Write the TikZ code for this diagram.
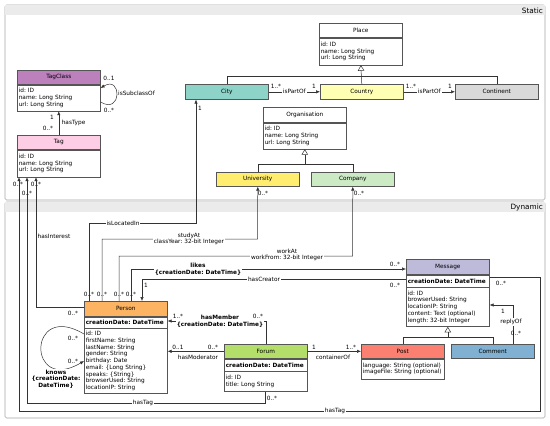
\documentclass[tikz,border=0pt]{standalone}
\usepackage{fontspec}
\setmainfont{DejaVu Sans}
\usetikzlibrary{arrows.meta}
\definecolor{cCity}{HTML}{8DD3C7}
\definecolor{cCountry}{HTML}{FFFFB3}
\definecolor{cMessage}{HTML}{BEBADA}
\definecolor{cPost}{HTML}{FB8072}
\definecolor{cComment}{HTML}{80B1D3}
\definecolor{cPerson}{HTML}{FDB462}
\definecolor{cForum}{HTML}{B3DE69}
\definecolor{cTag}{HTML}{FCCDE5}
\definecolor{cContinent}{HTML}{D9D9D9}
\definecolor{cTagClass}{HTML}{BC80BD}
\definecolor{cCompany}{HTML}{CCEBC5}
\definecolor{cUniversity}{HTML}{FFED6F}
\definecolor{bord}{HTML}{555555}
\definecolor{linec}{HTML}{333333}
\definecolor{band}{HTML}{EBEBEB}
\newcommand{\fs}{\fontsize{5.8}{6.7}\selectfont}
\tikzset{
 hdr/.style={draw=bord, line width=0.6pt, anchor=north west, minimum width=83pt, minimum height=14pt, inner sep=0pt, font=\fs},
 att/.style={draw=bord, line width=0.6pt, fill=white, anchor=north west, text width=80pt, inner xsep=1.5pt, inner ysep=0pt, align=left, font=\fs},
 conn/.style={draw=linec, line width=0.5pt},
 arr/.style={conn, -{Latex[length=4pt,width=3.4pt]}},
 gen/.style={conn, -{Triangle[open,length=5.5pt,width=6.5pt]}},
 lab/.style={font=\fs, inner sep=0.6pt, text=black},
 onl/.style={lab, fill=white, inner sep=1pt},
 bl/.style={font=\fs\bfseries, align=center},
 panel/.style={draw=gray!70, line width=0.6pt, rounded corners=1.5pt, fill=white},
}
\begin{document}
\frenchspacing\hfuzz=50pt\hbadness=10000
\begin{tikzpicture}[x=1pt,y=-1pt]
\useasboundingbox (0,0) rectangle (550,426);
% panels
\draw[panel] (5,5) rectangle (545,200);
\fill[band] (5.4,5.4) rectangle (544.6,15);
\node[anchor=east, font=\fontsize{7.3}{8}\selectfont, inner sep=0pt] (stlab) at (543,10.5) {Static};
\draw[panel] (5,202) rectangle (545,418);
\fill[band] (5.4,202.4) rectangle (544.6,212);
\node[anchor=east, font=\fontsize{7.3}{8}\selectfont, inner sep=0pt] (dylab) at (543,207.5) {Dynamic};

% static classes
\node[hdr, fill=cTagClass] (tagclassH) at (17,70) {TagClass};
\node[att, minimum height=26pt] (tagclassB) at (tagclassH.south west) {id: ID\\name: Long String\\url: Long String};
\node[hdr, fill=cTag] (tagH) at (17,135) {Tag};
\node[att, minimum height=27pt] (tagB) at (tagH.south west) {id: ID\\name: Long String\\url: Long String};
\node[hdr, fill=white] (placeH) at (319,23) {Place};
\node[att, minimum height=27pt] (placeB) at (placeH.south west) {id: ID\\name: Long String\\url: Long String};
\node[hdr, fill=cCity, minimum height=15pt] (cityH) at (185,84) {City};
\node[hdr, fill=cCountry, minimum height=15pt] (countryH) at (320,84) {Country};
\node[hdr, fill=cContinent, minimum height=15pt] (continentH) at (455,84) {Continent};
\node[hdr, fill=white, minimum height=15pt] (orgH) at (263,107) {Organisation};
\node[att, minimum height=26pt] (orgB) at (orgH.south west) {id: ID\\name: Long String\\url: Long String};
\node[hdr, fill=cUniversity] (univH) at (216,172) {University};
\node[hdr, fill=cCompany] (compH) at (311,172) {Company};

% dynamic classes
\node[hdr, fill=cPerson, minimum height=15pt] (personH) at (84,301) {Person};
\node[att, minimum height=11pt, font=\fs\bfseries] (personC) at (personH.south west) {creationDate: DateTime};
\node[att, minimum height=65pt] (personB) at (personC.south west) {id: ID\\firstName: String\\lastName: String\\gender: String\\birthday: Date\\email: \{Long String\}\\speaks: \{String\}\\browserUsed: String\\locationIP: String};
\node[hdr, fill=cMessage, minimum height=15pt] (messageH) at (406,259) {Message};
\node[att, minimum height=12pt, font=\fs\bfseries] (messageC) at (messageH.south west) {creationDate: DateTime};
\node[att, minimum height=39pt] (messageB) at (messageC.south west) {id: ID\\browserUsed: String\\locationIP: String\\content: Text (optional)\\length: 32-bit Integer};
\node[hdr, fill=cForum] (forumH) at (224,344) {Forum};
\node[att, minimum height=12pt, font=\fs\bfseries] (forumC) at (forumH.south west) {creationDate: DateTime};
\node[att, minimum height=20pt] (forumB) at (forumC.south west) {id: ID\\title: Long String};
\node[hdr, fill=cPost] (postH) at (361,344) {Post};
\node[att, minimum height=20pt] (postB) at (postH.south west) {language: String (optional)\\imageFile: String (optional)};
\node[hdr, fill=cComment] (commentH) at (451,344) {Comment};

% hasType
\draw[arr] (tagH.north) -- (tagclassB.south);
\node[lab] (l1) at (52,117) {1};
\node[lab] (l2) at (48,128) {0..*};
\node[lab, anchor=west] (l3) at (61,123) {hasType};
% isSubclassOf
\draw[arr] (tagclassB.east |- 0,102) .. controls (122,115) and (122,75) .. (tagclassB.east |- 0,88);
\node[lab] (l4) at (109,78) {0..1};
\node[lab] (l5) at (109,110) {0..*};
\node[lab] (l6) at (136.5,93) {isSubclassOf};
% place generalisation
\draw[gen] (countryH.north) -- (placeB.south);
\draw[conn] (cityH.north) -- (cityH.north |- 0,76) -- (continentH.north |- 0,76) -- (continentH.north);
% isPartOf
\draw[arr] (cityH.east) -- (countryH.west) node[onl, midway] (ip1) {isPartOf};
\node[lab] (l7) at (276,86) {1..*};
\node[lab] (l8) at (314,86) {1};
\draw[arr] (countryH.east) -- (continentH.west) node[onl, midway] (ip2) {isPartOf};
\node[lab] (l9) at (411,86) {1..*};
\node[lab] (l10) at (450,86) {1};
% organisation generalisation
\draw[gen] (orgB.south |- 0,164) -- (orgB.south);
\draw[conn] (univH.north) -- (univH.north |- 0,164) -- (compH.north |- 0,164) -- (compH.north);

% isLocatedIn
\draw[arr] (personH.north -| 89,0) -- (89,223) -- (196,223) -- (cityH.south -| 196,0);
\node[onl] (lil) at (123,223) {isLocatedIn};
\node[lab] (l11) at (200,108) {1};
% studyAt
\draw[arr] (personH.north -| 102,0) -- (102,239) -- (257.5,239) -- (univH.south);
\node[onl, align=center] (lsa) at (189,239) {studyAt\\classYear: 32-bit Integer};
\node[lab] (l12) at (263,193) {0..*};
% workAt
\draw[arr] (personH.north -| 119,0) -- (119,256) -- (352.5,256) -- (compH.south);
\node[onl, align=center] (lwa) at (287,255) {workAt\\workFrom: 32-bit Integer};
\node[lab] (l13) at (359,193) {0..*};
% likes
\draw[arr] (personH.north -| 131,0) -- (131,269) -- (messageH.west |- 0,269);
\node[onl, bl] (llk) at (198,269.5) {likes\\\{creationDate: DateTime\}};
\node[lab] (l14) at (395,264) {0..*};
% hasCreator
\draw[arr] (messageC.west |- 0,279) -- (142,279) -- (personH.north -| 142,0);
\node[onl] (lhc) at (264,279) {hasCreator};
\node[lab] (l15) at (395,285) {0..*};
\node[lab] (l16) at (146,285) {1};
% person top multiplicities
\node[lab] (l17) at (89,294) {0..*};
\node[lab] (l18) at (102,294) {0..*};
\node[lab] (l19) at (119,294) {0..*};
\node[lab] (l20) at (131,294) {0..*};
% hasMember
\draw[arr] (forumH.north -| 266,0) -- (266,321) -- (personC.east |- 0,321);
\node[onl, bl] (lhm) at (220,321.5) {hasMember\\\{creationDate: DateTime\}};
\node[lab] (l21) at (178,316) {1..*};
\node[lab] (l22) at (258,316) {0..*};
% hasModerator
\draw[arr] (forumH.west) -- (personB.east |- forumH.west);
\node[lab] (l23) at (178,347) {0..1};
\node[lab] (l24) at (213,347) {0..*};
\node[lab] (l25) at (198,357) {hasModerator};
% containerOf
\draw[arr] (forumH.east) -- (postH.west);
\node[lab] (l26) at (314,347) {1};
\node[lab] (l27) at (351,347) {1..*};
\node[lab] (l28) at (333,357) {containerOf};
% message generalisation
\draw[gen] (messageB.south |- 0,337) -- (messageB.south);
\draw[conn] (postH.north) -- (postH.north |- 0,337) -- (commentH.north |- 0,337) -- (commentH.north);
% replyOf
\draw[arr] (commentH.north -| 513,0) -- (513,305) -- (messageB.east |- 0,305);
\node[lab] (l29) at (503,311) {1};
\node[onl] (l30) at (511,322) {replyOf};
\node[lab] (l31) at (516,333) {0..*};
% hasTag (message)
\draw[arr] (messageC.east |- 0,277) -- (540,277) -- (540,411) -- (19,411) -- (tagB.south -| 19,0);
\node[onl] (lht2) at (335,411) {hasTag};
\node[lab] (l32) at (501,283) {0..*};
\node[lab] (l33) at (18,184) {0..*};
% hasTag (forum)
\draw[arr] (forumB.south -| 265,0) -- (265,403) -- (27,403) -- (tagB.south -| 27,0);
\node[onl] (lht1) at (143,403) {hasTag};
\node[lab] (l34) at (272,398) {0..*};
\node[lab] (l35) at (27,193) {0..*};
% hasInterest
\draw[arr] (personH.west |- 0,307) -- (36,307) -- (tagB.south -| 36,0);
\node[lab] (lhi) at (54,236) {hasInterest};
\node[lab] (l36) at (73,313) {0..*};
\node[lab] (l37) at (36,184) {0..*};
% knows
\draw[arr] (personB.west |- 0,334) .. controls (27,300) and (27,395) .. (personB.west |- 0,361);
\node[onl, bl] (lkn) at (56,379) {knows\\\{creationDate:\\DateTime\}};
\node[lab] (l38) at (73,338) {0..*};
\node[lab] (l39) at (73,361) {0..*};
\end{tikzpicture}
\end{document}
